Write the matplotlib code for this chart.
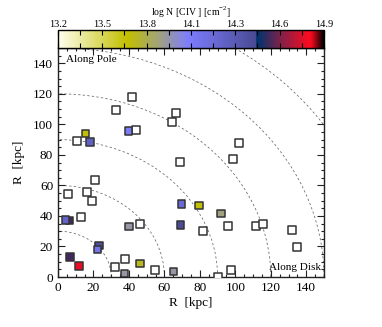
import numpy as np
import matplotlib
matplotlib.use("Agg")
import matplotlib.pyplot as plt
from matplotlib.colors import LinearSegmentedColormap, Normalize
from matplotlib.patches import Circle
from matplotlib.ticker import MultipleLocator

plt.rcParams['font.family'] = ['Liberation Serif', 'DejaVu Serif']
plt.rcParams['mathtext.fontset'] = 'custom'
plt.rcParams['mathtext.rm'] = 'Liberation Serif'

# ---- data ----
# sightlines without detection (open squares)
open_x = [10.5, 32.7, 41.5, 44.0, 64.3, 66.7, 69.0, 102.0, 98.5, 20.9, 5.5, 16.5,
          19.0, 13.0, 32.1, 37.6, 46.4, 54.9, 81.6, 95.7, 111.5, 115.6, 131.8,
          134.6, 97.6, 90.0]
open_y = [89.2, 109.7, 118.0, 96.5, 101.5, 107.5, 75.5, 87.9, 77.5, 63.6, 54.5, 55.8,
          49.5, 39.3, 6.8, 11.9, 34.4, 4.8, 30.0, 33.6, 33.3, 34.4, 31.1,
          19.4, 4.6, 0.0]
# detections (filled, coloured by log N(CIV))
det_x = [15.6, 18.0, 39.7, 6.4, 4.3, 23.1, 22.2, 6.8, 11.7, 37.6, 46.2, 40.0,
         65.2, 69.7, 69.2, 79.5, 91.9]
det_y = [94.0, 88.5, 95.8, 37.0, 37.3, 20.7, 18.0, 13.2, 7.3, 2.4, 8.8, 33.0,
         3.5, 47.7, 34.2, 46.8, 41.7]
det_logN = [13.65, 14.28, 14.05, 14.55, 14.25, 14.42, 14.12, 14.55, 14.78, 13.9, 13.7, 13.9,
            13.9, 14.2, 14.45, 13.65, 13.85]

radii = [30, 60, 90, 120, 150, 180]
cbar_ticks = [13.2, 13.483, 13.767, 14.05, 14.333, 14.617, 14.9]
cbar_labels = ['13.2', '13.5', '13.8', '14.1', '14.3', '14.6', '14.9']
vmin, vmax = 13.2, 14.9

# ---- colormap ----
stops = [
    (0.00, (1.00, 1.00, 0.94)),
    (0.26, (0.76, 0.75, 0.00)),
    (0.38, (0.63, 0.63, 0.50)),
    (0.49, (0.49, 0.49, 1.00)),
    (0.745, (0.29, 0.29, 0.58)),
    (0.75, (0.00, 0.20, 0.43)),
    (0.85, (0.55, 0.12, 0.27)),
    (0.95, (1.00, 0.04, 0.12)),
    (1.00, (0.00, 0.00, 0.00)),
]
cmap = LinearSegmentedColormap.from_list('civ', stops)
norm = Normalize(vmin=vmin, vmax=vmax)

fig = plt.figure(figsize=(3.82, 3.27), dpi=100)
ax = fig.add_axes([0.1518, 0.1529, 0.6963, 0.7003])
cax = fig.add_axes([0.1518, 0.8532, 0.6963, 0.055])

for r in radii:
    ax.add_patch(Circle((0, 0), r, fill=False, ls=(0, (3, 3)), lw=0.55,
                        ec='#666666', zorder=1))

ax.scatter(open_x, open_y, marker='s', s=30, facecolor='white',
           edgecolor='#333333', linewidth=1.1, zorder=3, clip_on=True)
ax.scatter(det_x, det_y, marker='s', s=30, c=det_logN, cmap=cmap, norm=norm,
           edgecolor='#333333', linewidth=1.1, zorder=4)

ax.set_xlim(0, 150)
ax.set_ylim(0, 150)
ax.xaxis.set_major_locator(MultipleLocator(20))
ax.xaxis.set_minor_locator(MultipleLocator(5))
ax.yaxis.set_major_locator(MultipleLocator(20))
ax.yaxis.set_minor_locator(MultipleLocator(5))
ax.tick_params(which='both', direction='in', top=True, right=True, labelsize=9.5,
               width=0.8, color='#222222')
ax.tick_params(which='major', length=5)
ax.tick_params(which='minor', length=2.5)
for s in ax.spines.values():
    s.set_linewidth(1.0)
    s.set_color('#222222')
ax.set_xlabel('R  [kpc]', fontsize=9.5, labelpad=2)
ax.set_ylabel('R  [kpc]', fontsize=9.5, labelpad=6)

ax.text(4.5, 142.5, 'Along Pole', fontsize=8, ha='left', va='center')
ax.text(148.5, 6.5, 'Along Disk', fontsize=8, ha='right', va='center')

# ---- colorbar ----
sm = matplotlib.cm.ScalarMappable(norm=norm, cmap=cmap)
cb = fig.colorbar(sm, cax=cax, orientation='horizontal')
cb.outline.set_linewidth(1.0)
cb.set_ticks(cbar_ticks)
cb.set_ticklabels(cbar_labels)
cax.xaxis.set_minor_locator(matplotlib.ticker.FixedLocator(
    [(a + b) / 2 for a, b in zip(cbar_ticks[:-1], cbar_ticks[1:])]))
cax.xaxis.set_ticks_position('both')
cax.xaxis.set_label_position('top')
cax.tick_params(which='both', direction='in', labeltop=True, labelbottom=False,
                labelsize=7.5, width=0.8, pad=0.5)
cax.tick_params(which='major', length=3.5)
cax.tick_params(which='minor', length=3.5)
cax.set_xlabel(r'log N [CIV ] [cm$^{-2}$]', fontsize=7, labelpad=3)

fig.savefig('out.png', dpi=100)
